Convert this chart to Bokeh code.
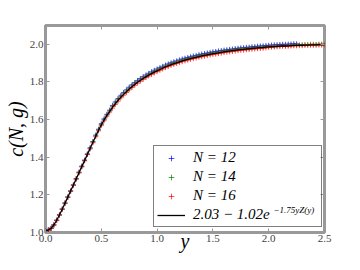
from bokeh.plotting import figure
from bokeh.models import (FixedTicker, PrintfTickFormatter, LinearAxis, Legend, LegendItem,
                          CustomJSTickFormatter, Label)
from bokeh.embed import file_html
from bokeh.resources import INLINE

# ---- data ----
y_grid = [round(0.025 * i, 3) for i in range(101)]

fit_vals = [1.010, 1.013, 1.022, 1.040, 1.065, 1.093, 1.124, 1.156, 1.188, 1.220,
            1.252, 1.285, 1.318, 1.350, 1.382, 1.415, 1.447, 1.480, 1.512, 1.543,
            1.572, 1.598, 1.622, 1.644, 1.665, 1.684, 1.702, 1.719, 1.734, 1.748,
            1.762, 1.775, 1.787, 1.798, 1.808, 1.818, 1.827, 1.836, 1.844, 1.852,
            1.859, 1.866, 1.873, 1.880, 1.886, 1.892, 1.897, 1.902, 1.907, 1.912,
            1.916, 1.920, 1.924, 1.928, 1.931, 1.935, 1.938, 1.941, 1.944, 1.947,
            1.950, 1.952, 1.955, 1.957, 1.960, 1.962, 1.964, 1.966, 1.968, 1.970,
            1.972, 1.973, 1.975, 1.976, 1.978, 1.979, 1.981, 1.982, 1.983, 1.985,
            1.986, 1.987, 1.988, 1.989, 1.990, 1.991, 1.991, 1.992, 1.993, 1.994,
            1.994, 1.995, 1.995, 1.996, 1.996, 1.997, 1.997, 1.997, 1.998, 1.998,
            1.998]

n12_vals = [1.011, 1.014, 1.023, 1.041, 1.066, 1.094, 1.125, 1.157, 1.189, 1.221,
            1.253, 1.286, 1.321, 1.353, 1.385, 1.418, 1.450, 1.483, 1.518, 1.549,
            1.578, 1.604, 1.628, 1.650, 1.675, 1.694, 1.712, 1.729, 1.744, 1.758,
            1.772, 1.785, 1.797, 1.808, 1.818, 1.828, 1.837, 1.846, 1.854, 1.862,
            1.869, 1.876, 1.883, 1.890, 1.896, 1.902, 1.907, 1.912, 1.917, 1.922,
            1.926, 1.930, 1.934, 1.938, 1.941, 1.945, 1.948, 1.951, 1.954, 1.957,
            1.960, 1.962, 1.965, 1.967, 1.969, 1.971, 1.973, 1.975, 1.977, 1.979,
            1.981, 1.982, 1.984, 1.985, 1.987, 1.988, 1.990, 1.991, 1.992, 1.994,
            1.995, 1.996, 1.997, 1.998, 1.999, 2.000, 2.000, 2.001, 2.002, 2.003,
            2.003]

n14_vals = [1.010, 1.013, 1.022, 1.040, 1.065, 1.093, 1.124, 1.156, 1.188, 1.220,
            1.252, 1.285, 1.318, 1.350, 1.382, 1.415, 1.449, 1.482, 1.514, 1.545,
            1.574, 1.600, 1.624, 1.646, 1.669, 1.688, 1.706, 1.723, 1.738, 1.752,
            1.766, 1.779, 1.791, 1.802, 1.812, 1.822, 1.831, 1.840, 1.848, 1.856,
            1.863, 1.870, 1.877, 1.884, 1.890, 1.896, 1.901, 1.906, 1.911, 1.916,
            1.920, 1.924, 1.928, 1.932, 1.935, 1.939, 1.942, 1.945, 1.948, 1.951,
            1.954, 1.956, 1.959, 1.961, 1.964, 1.966, 1.968, 1.970, 1.972, 1.974,
            1.976, 1.977, 1.978, 1.979, 1.981, 1.982, 1.984, 1.985, 1.986, 1.988,
            1.989, 1.990, 1.991, 1.992, 1.993, 1.994, 1.994, 1.995, 1.996, 1.997,
            1.997, 1.998, 1.998, 1.999, 1.999, 2.000, 2.000, 2.000, 2.001, 2.001,
            2.001]

n16_vals = [1.009, 1.012, 1.021, 1.039, 1.064, 1.092, 1.123, 1.155, 1.187, 1.219,
            1.251, 1.284, 1.317, 1.349, 1.381, 1.414, 1.444, 1.477, 1.509, 1.540,
            1.568, 1.594, 1.618, 1.640, 1.661, 1.680, 1.698, 1.715, 1.730, 1.744,
            1.758, 1.771, 1.783, 1.794, 1.804, 1.814, 1.823, 1.832, 1.840, 1.848,
            1.855, 1.862, 1.869, 1.876, 1.882, 1.888, 1.893, 1.898, 1.903, 1.908,
            1.912, 1.916, 1.920, 1.924, 1.927, 1.931, 1.934, 1.937, 1.940, 1.943,
            1.946, 1.948, 1.951, 1.953, 1.956, 1.958, 1.960, 1.962, 1.964, 1.966,
            1.968, 1.969, 1.971, 1.972, 1.974, 1.975, 1.977, 1.978, 1.979, 1.981,
            1.984, 1.985, 1.986, 1.987, 1.988, 1.989, 1.989, 1.990, 1.991, 1.992,
            1.992, 1.993, 1.993, 1.994, 1.994, 1.995, 1.995, 1.995, 1.996, 1.996,
            1.996]

x_ticks = [0.0, 0.5, 1.0, 1.5, 2.0, 2.5]
y_ticks = [1.0, 1.2, 1.4, 1.6, 1.8, 2.0]

labels = ["N = 12", "N = 14", "N = 16", "2.03 \u2212 1.02e"]
fit_exponent = "\u22121.75yZ(y)"

SERIF = "Liberation Serif"
SPINE = "#999999"
X0, X1, Y0, Y1 = 0.0, 2.5, 1.0, 2.1

p = figure(width=344, height=254, x_range=(X0, X1), y_range=(Y0, Y1),
           output_backend="svg", toolbar_location=None,
           min_border_left=45, min_border_right=20, min_border_top=25, min_border_bottom=20)
p.background_fill_color = "white"
p.border_fill_color = "white"
p.grid.visible = False
p.outline_line_color = SPINE
p.outline_line_width = 3

p.xaxis.axis_label = "y"
p.yaxis.axis_label = "c(N, g)"

for ax, ticks in ((p.xaxis[0], x_ticks), (p.yaxis[0], y_ticks)):
    ax.ticker = FixedTicker(ticks=ticks)
    ax.formatter = PrintfTickFormatter(format="%.1f")
    ax.axis_line_color = None
    ax.major_tick_line_color = SPINE
    ax.major_tick_in = 4
    ax.major_tick_out = 0
    ax.minor_tick_line_color = None
    ax.major_label_text_font = SERIF
    ax.major_label_text_font_size = "11px"
    ax.major_label_text_color = "#444444"
    ax.major_label_standoff = 2
    ax.axis_label_text_font = SERIF
    ax.axis_label_text_font_style = "italic"
    ax.axis_label_text_font_size = "20px"
    ax.axis_label_text_color = "black"
    ax.axis_label_standoff = 0

p.xaxis.axis_label_standoff = -15

for loc, ticks in (("right", y_ticks), ("above", x_ticks)):
    ax = LinearAxis(ticker=FixedTicker(ticks=ticks),
                    formatter=CustomJSTickFormatter(code="return ''"))
    ax.axis_line_color = None
    ax.major_tick_line_color = SPINE
    ax.major_tick_in = 4
    ax.major_tick_out = 0
    ax.minor_tick_line_color = None
    ax.major_label_standoff = 0
    ax.major_label_text_font_size = "1px"
    p.add_layout(ax, loc)

r12 = p.scatter(y_grid[:len(n12_vals)], n12_vals, marker="cross", size=5,
                line_color="#0000ff", line_width=1, line_alpha=0.7)
r14 = p.scatter(y_grid, n14_vals, marker="cross", size=5,
                line_color="#008000", line_width=1, line_alpha=0.7)
r16 = p.scatter(y_grid, n16_vals, marker="cross", size=5,
                line_color="#ff0000", line_width=1, line_alpha=0.7)
rfit = p.line(y_grid, fit_vals, line_color="black", line_width=1.3)

# exponent of the fit label, placed just after "1.02e" inside the legend
frame_w = 344 - 45 - 20
frame_h = 254 - 25 - 22
exp_label = Label(x=X0 + 228 * (X1 - X0) / frame_w,
                  y=Y0 + 23 * (Y1 - Y0) / frame_h,
                  text=fit_exponent,
                  text_font=SERIF, text_font_style="italic", text_font_size="9px",
                  text_color="black", text_baseline="middle", text_align="left")

legend = Legend(items=[LegendItem(label=labels[0], renderers=[r12]),
                       LegendItem(label=labels[1], renderers=[r14]),
                       LegendItem(label=labels[2], renderers=[r16]),
                       LegendItem(label=labels[3], renderers=[rfit])],
                location=(108, 5))
legend.label_text_font = SERIF
legend.label_text_font_style = "italic"
legend.label_text_font_size = "15px"
legend.label_text_color = "black"
legend.label_height = 14
legend.label_width = 125
legend.glyph_height = 14
legend.glyph_width = 28
legend.label_standoff = 8
legend.spacing = 2
legend.padding = 3
legend.margin = 0
legend.border_line_color = "black"
legend.border_line_width = 1
legend.background_fill_color = None
p.add_layout(legend, "center")
p.add_layout(exp_label, "center")

open("out.html", "w").write(file_html(p, INLINE))
